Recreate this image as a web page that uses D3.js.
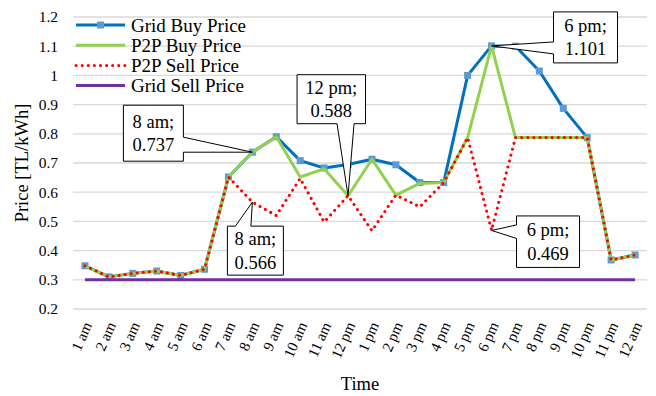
<!DOCTYPE html>
<html>
<head>
<meta charset="utf-8">
<script src="https://cdn.jsdelivr.net/npm/d3@7"></script>
<style>
    body { margin: 0; background: #fff; }
    svg text { font-family: "Times New Roman", "Liberation Serif", serif; fill: #000; }
</style>
</head>
<body>
<svg id="chart" width="656" height="396"></svg>
<script>
var hours = ["1 am", "2 am", "3 am", "4 am", "5 am", "6 am", "7 am", "8 am", "9 am", "10 am", "11 am", "12 pm",
    "1 pm", "2 pm", "3 pm", "4 pm", "5 pm", "6 pm", "7 pm", "8 pm", "9 pm", "10 pm", "11 pm", "12 am"];
var gridBuy = [0.348, 0.310, 0.322, 0.330, 0.315, 0.336, 0.652, 0.737, 0.790, 0.708, 0.683, 0.695,
    0.713, 0.694, 0.633, 0.633, 1.000, 1.101, 1.100, 1.015, 0.887, 0.787, 0.368, 0.385];
var p2pBuy = [0.348, 0.310, 0.322, 0.330, 0.315, 0.336, 0.652, 0.737, 0.790, 0.652, 0.680, 0.588,
    0.713, 0.590, 0.630, 0.633, 0.787, 1.101, 0.787, 0.787, 0.787, 0.787, 0.368, 0.385];
var p2pSell = [0.348, 0.310, 0.322, 0.330, 0.315, 0.336, 0.652, 0.566, 0.520, 0.647, 0.498, 0.588,
    0.468, 0.590, 0.550, 0.633, 0.787, 0.469, 0.787, 0.787, 0.787, 0.787, 0.368, 0.385];
var gridSell = [0.3, 0.3, 0.3, 0.3, 0.3, 0.3, 0.3, 0.3, 0.3, 0.3, 0.3, 0.3,
    0.3, 0.3, 0.3, 0.3, 0.3, 0.3, 0.3, 0.3, 0.3, 0.3, 0.3, 0.3];
var seriesNames = ["Grid Buy Price", "P2P Buy Price", "P2P Sell Price", "Grid Sell Price"];
var yTicks = [0.2, 0.3, 0.4, 0.5, 0.6, 0.7, 0.8, 0.9, 1.0, 1.1, 1.2];
// data labels (callouts): text, series, hour index
var calloutText = [["8 am;", "0.737"], ["12 pm;", "0.588"], ["6 pm;", "1.101"], ["8 am;", "0.566"], ["6 pm;", "0.469"]];
var calloutSeries = [gridBuy, p2pBuy, gridBuy, p2pSell, p2pSell];
var calloutIndex = [7, 11, 17, 7, 17];

var svg = d3.select("#chart");
var plotL = 73, plotR = 647, plotT = 17, plotB = 309;

var x = d3.scaleBand().domain(hours).range([plotL, plotR]);
var y = d3.scaleLinear().domain([0.2, 1.2]).range([plotB, plotT]);
function cx(i) { return x(hours[i]) + x.bandwidth() / 2; }

// grid
svg.append("g").selectAll("line").data(yTicks).enter()
    .append("line")
    .attr("x1", plotL).attr("x2", plotR)
    .attr("y1", function (d) { return y(d); })
    .attr("y2", function (d) { return y(d); })
    .attr("stroke", "#d9d9d9")
    .attr("stroke-width", 1.3);

// y axis
var yAxis = d3.axisLeft(y).tickValues(yTicks).tickFormat(d3.format("~g")).tickSize(0).tickPadding(15);
var gy = svg.append("g").attr("transform", "translate(" + plotL + ",0)").call(yAxis);
gy.select(".domain").remove();
gy.attr("font-family", null).attr("font-size", null);
gy.selectAll("text").style("font-size", "15.5px").attr("fill", "#000");

// x axis
var xAxis = d3.axisBottom(x).tickSize(0);
var gx = svg.append("g").attr("transform", "translate(0," + plotB + ")").call(xAxis);
gx.select(".domain").remove();
gx.attr("font-family", null).attr("font-size", null);
gx.selectAll("text")
    .attr("x", 0).attr("y", 0).attr("dy", "0.32em")
    .attr("transform", "translate(3,14) rotate(-66)")
    .style("text-anchor", "end")
    .style("font-size", "15px")
    .attr("fill", "#000");

// axis titles
svg.append("text").attr("x", (plotL + plotR) / 2).attr("y", 390)
    .attr("text-anchor", "middle").style("font-size", "18.5px").text("Time");
svg.append("text").attr("transform", "translate(28," + (plotT + plotB) / 2 + ") rotate(-90)")
    .attr("text-anchor", "middle").style("font-size", "18.5px").text("Price [TL/kWh]");

var line = d3.line()
    .x(function (d, i) { return cx(i); })
    .y(function (d) { return y(d); });

var styles = [
    { color: "#0070c0", dash: null, cap: "round" },
    { color: "#92d050", dash: null, cap: "round" },
    { color: "#ff0000", dash: "0.1 6", cap: "round" },
    { color: "#7030a0", dash: null, cap: "butt" }
];
var allSeries = [gridBuy, p2pBuy, p2pSell, gridSell];

allSeries.forEach(function (s, k) {
    svg.append("path")
        .datum(s)
        .attr("d", line)
        .attr("fill", "none")
        .attr("stroke", styles[k].color)
        .attr("stroke-width", 3)
        .attr("stroke-linejoin", "round")
        .attr("stroke-linecap", styles[k].cap)
        .attr("stroke-dasharray", styles[k].dash);
    if (k == 0) {
        svg.append("g").selectAll("rect").data(s).enter()
            .append("rect")
            .attr("x", function (d, i) { return cx(i) - 3.5; })
            .attr("y", function (d) { return y(d) - 3.5; })
            .attr("width", 7).attr("height", 7)
            .attr("fill", "#5b9bd5");
    }
});

// legend
var legend = svg.append("g");
seriesNames.forEach(function (name, k) {
    var ly = 25 + k * 20.2;
    legend.append("line")
        .attr("x1", 76).attr("x2", 125).attr("y1", ly).attr("y2", ly)
        .attr("stroke", styles[k].color)
        .attr("stroke-width", 3)
        .attr("stroke-linecap", k == 2 ? "round" : "butt")
        .attr("stroke-dasharray", styles[k].dash);
    if (k == 0) {
        legend.append("rect").attr("x", 100.5 - 3.5).attr("y", ly - 3.5)
            .attr("width", 7).attr("height", 7).attr("fill", "#5b9bd5");
    }
    legend.append("text").attr("x", 131).attr("y", ly + 6.5)
        .style("font-size", "19px").text(name);
});

// callout boxes, relative to their point: box [x0, x1, y0, y1], wedge side and base
var boxes = [
    { b: [-129, -69, -47, 9], side: "right", w: [-15, 0] },
    { b: [-51, 17.5, -121, -72], side: "bottom", w: [-11, 6] },
    { b: [62, 126, -34, 17], side: "left", w: [-4, 8] },
    { b: [-25, 31, 24, 73], side: "top", w: [-17, -1.5] },
    { b: [25, 88, -14.5, 37], side: "left", w: [-5.5, 8] }
];
calloutText.forEach(function (txt, k) {
    var px = cx(calloutIndex[k]), py = y(calloutSeries[k][calloutIndex[k]]);
    var bx = boxes[k];
    var x0 = px + bx.b[0], x1 = px + bx.b[1], y0 = py + bx.b[2], y1 = py + bx.b[3];
    var d;
    if (bx.side == "right") {
        d = "M" + x0 + "," + y0 + "H" + x1 + "V" + (py + bx.w[0]) + "L" + px + "," + py +
            "L" + x1 + "," + (py + bx.w[1]) + "V" + y1 + "H" + x0 + "Z";
    } else if (bx.side == "left") {
        d = "M" + x0 + "," + y0 + "H" + x1 + "V" + y1 + "H" + x0 + "V" + (py + bx.w[1]) +
            "L" + px + "," + py + "L" + x0 + "," + (py + bx.w[0]) + "Z";
    } else if (bx.side == "bottom") {
        d = "M" + x0 + "," + y0 + "H" + x1 + "V" + y1 + "H" + (px + bx.w[1]) +
            "L" + px + "," + py + "L" + (px + bx.w[0]) + "," + y1 + "H" + x0 + "Z";
    } else {
        d = "M" + x0 + "," + y0 + "H" + (px + bx.w[0]) + "L" + px + "," + py +
            "L" + (px + bx.w[1]) + "," + y0 + "H" + x1 + "V" + y1 + "H" + x0 + "Z";
    }
    svg.append("path").attr("d", d)
        .attr("fill", "#fff").attr("stroke", "#000").attr("stroke-width", 1);
    var c = (y0 + y1) / 2, mx = (x0 + x1) / 2;
    txt.forEach(function (t, j) {
        svg.append("text").attr("x", mx).attr("y", c + (j == 0 ? -5.5 : 18))
            .attr("text-anchor", "middle").style("font-size", "18.5px").text(t);
    });
});
</script>
</body>
</html>
